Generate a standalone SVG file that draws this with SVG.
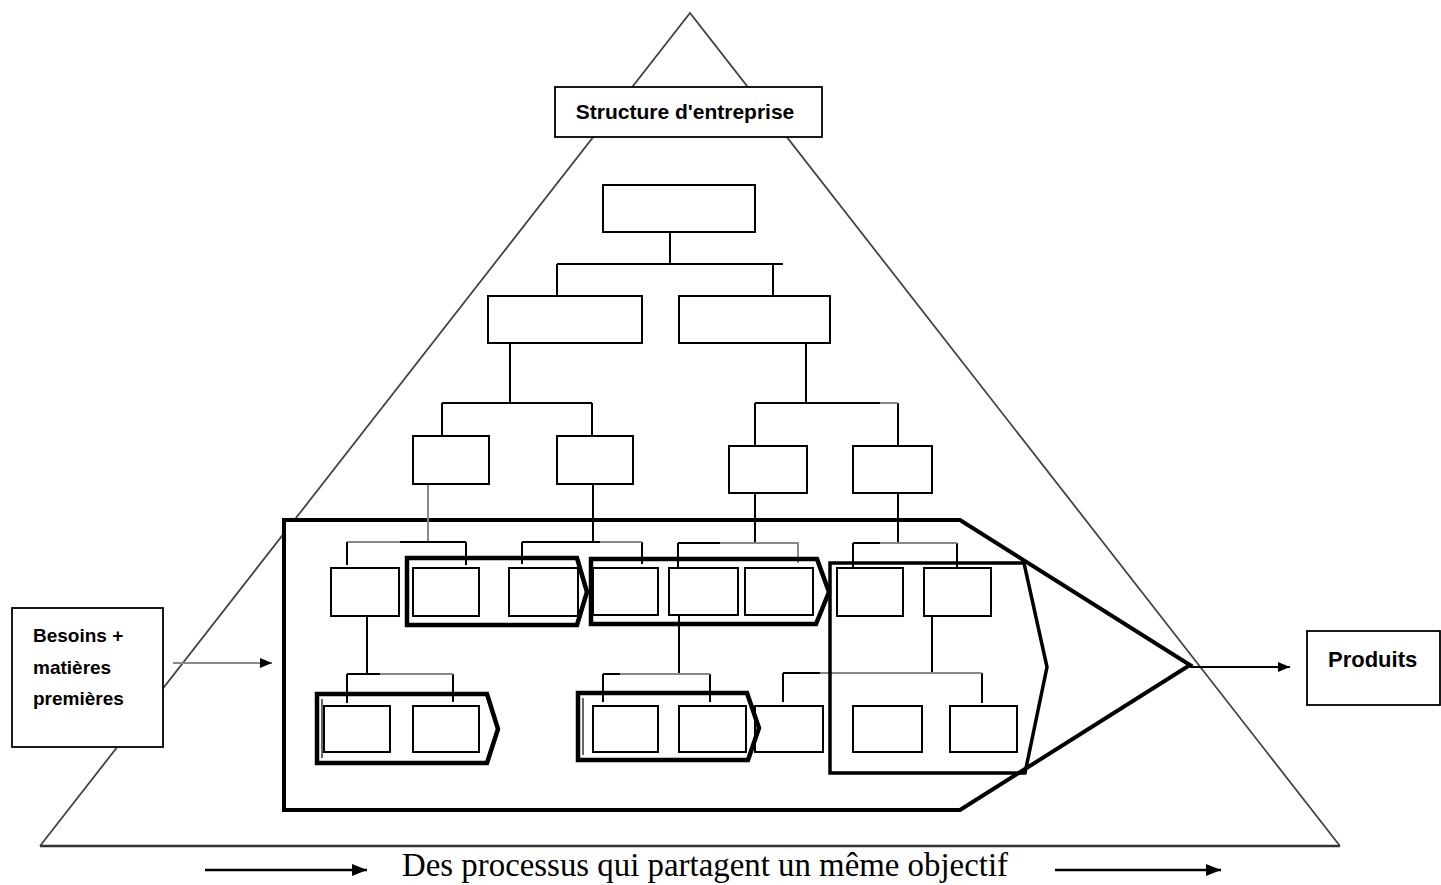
<svg xmlns="http://www.w3.org/2000/svg" width="1441" height="885" viewBox="0 0 1441 885">
  <defs>
    <style>
      .tri { fill: none; stroke: #444; stroke-width: 1.8; }
      .base { stroke: #333; stroke-width: 2.4; }
      .big { fill: #fff; stroke: #000; stroke-width: 4; stroke-linejoin: miter; }
      .proc { fill: none; stroke: #000; stroke-width: 4.5; stroke-linejoin: miter; }
      .proc-in { fill: none; stroke: #000; stroke-width: 1.2; }
      .unit { fill: #fff; stroke: #000; stroke-width: 2; }
      .link { fill: none; stroke: #000; stroke-width: 2; }
      .link-g { fill: none; stroke: #888; stroke-width: 2; }
      .label { fill: #fff; stroke: #000; stroke-width: 1.8; }
      .lbl { font-family: "Liberation Sans", Arial, sans-serif; font-weight: bold; fill: #000; }
      .cap { font-family: "Liberation Serif", "Times New Roman", serif; fill: #000; }
      .flow { fill: none; stroke: #000; stroke-width: 2.6; }
    </style>
    <marker id="head" viewBox="0 0 10 10" refX="10" refY="5" markerWidth="12" markerHeight="10" markerUnits="userSpaceOnUse" orient="auto" preserveAspectRatio="none">
      <path d="M0 0 L10 5 L0 10 Z" fill="#000"/>
    </marker>
    <marker id="headL" viewBox="0 0 10 10" refX="10" refY="5" markerWidth="15" markerHeight="12" markerUnits="userSpaceOnUse" orient="auto" preserveAspectRatio="none">
      <path d="M0 0 L10 5 L0 10 Z" fill="#000"/>
    </marker>
  </defs>

  <!-- enterprise pyramid -->
  <g id="pyramid">
    <path class="tri" d="M40 846 L690 13 L1340 846"/>
    <line class="base" x1="40" y1="846" x2="1340" y2="846"/>
  </g>

  <!-- overall process envelope -->
  <g id="process-envelope">
    <path class="big" d="M284 520 H960 L1190 665 L960 810 H284 Z"/>
  </g>

  <!-- hierarchy links -->
  <g id="connectors">
    <path class="link" d="M670 232 V264 M557 264 H783 M557 264 V296 M773 264 V296"/>
    <path class="link" d="M510 343 V403 M442 403 H592 M442 403 V436 M592 403 V436"/>
    <path class="link" d="M806 343 V403 M755 403 H880 M755 403 V446 M898 403 V446"/>
    <path class="link-g" d="M880 403 H898"/>
    <path class="link-g" d="M428 484 V542 M347 542 H400"/>
    <path class="link" d="M400 542 H466 M347 542 V565 M466 542 V565"/>
    <path class="link" d="M593 484 V542 M522 542 H600 M522 542 V564 M642 542 V564"/>
    <path class="link-g" d="M600 542 H642"/>
    <path class="link" d="M755 493 V543 M678 543 H720 M678 543 V567"/>
    <path class="link-g" d="M720 543 H798 V563"/>
    <path class="link" d="M898 493 V543 M853 543 H880 M853 543 V567 M957 543 V567"/>
    <path class="link-g" d="M880 543 H957"/>
    <path class="link" d="M367 616 V674 M347 674 H380 M347 674 V703 M453 674 V702"/>
    <path class="link-g" d="M380 674 H453"/>
    <path class="link" d="M679 615 V674 M603 674 H620 M603 674 V702 M710 674 V702"/>
    <path class="link-g" d="M620 674 H710"/>
    <path class="link" d="M932 616 V673 M783 673 H820 M783 673 V702 M982 673 V703"/>
    <path class="link-g" d="M820 673 H982"/>
  </g>

  <!-- organisation chart units -->
  <g id="units">
    <rect id="u-top" class="unit" x="603" y="185" width="152" height="47"/>
    <rect id="u-l1a" class="unit" x="488" y="296" width="154" height="47"/>
    <rect id="u-l1b" class="unit" x="679" y="296" width="151" height="47"/>
    <rect id="u-l2a" class="unit" x="413" y="436" width="76" height="48"/>
    <rect id="u-l2b" class="unit" x="557" y="436" width="76" height="48"/>
    <rect id="u-l2c" class="unit" x="729" y="446" width="78" height="47"/>
    <rect id="u-l2d" class="unit" x="853" y="446" width="79" height="47"/>
    <rect id="u-a1" class="unit" x="331" y="568" width="68" height="48"/>
    <rect id="u-a2" class="unit" x="413" y="568" width="66" height="48"/>
    <rect id="u-a3" class="unit" x="509" y="568" width="69" height="48"/>
    <rect id="u-c1" class="unit" x="593" y="568" width="65" height="47"/>
    <rect id="u-c2" class="unit" x="669" y="568" width="69" height="47"/>
    <rect id="u-c3" class="unit" x="745" y="568" width="68" height="47"/>
    <rect id="u-f1" class="unit" x="837" y="568" width="66" height="48"/>
    <rect id="u-f2" class="unit" x="924" y="568" width="67" height="48"/>
    <rect id="u-b1" class="unit" x="324" y="706" width="66" height="46"/>
    <rect id="u-b2" class="unit" x="413" y="706" width="66" height="46"/>
    <rect id="u-d1" class="unit" x="593" y="706" width="65" height="46"/>
    <rect id="u-d2" class="unit" x="679" y="706" width="67" height="46"/>
    <rect id="u-e" class="unit" x="755" y="706" width="68" height="46"/>
    <rect id="u-g1" class="unit" x="853" y="706" width="69" height="46"/>
    <rect id="u-g2" class="unit" x="950" y="706" width="67" height="46"/>
  </g>

  <!-- individual processes -->
  <g id="processes">
    <g id="proc-1">
      <path class="proc" d="M407 558 H577 L587 592 L577 625 H407 Z"/>
    </g>
    <g id="proc-2">
      <path class="proc" d="M317 694 H487 L498 729 L487 763 H317 Z"/>
      <path class="proc-in" d="M322 699 V758"/>
    </g>
    <g id="proc-3">
      <path class="proc" d="M591 559 H817 L829 592 L816 624 H591 Z"/>
    </g>
    <g id="proc-4">
      <path class="proc" d="M578 693 H747 L759 728 L748 760 H578 Z"/>
      <path class="proc-in" d="M583 698 V755"/>
    </g>
    <g id="proc-5">
      <path class="proc" style="stroke-width:3.5" d="M830 563 H1024 L1047 667 L1025 773 H830 Z"/>
    </g>
  </g>

  <!-- inputs and outputs -->
  <g id="flows">
    <line x1="173" y1="663" x2="272" y2="663" stroke="#8a8a8a" stroke-width="2.2" marker-end="url(#head)"/>
    <line x1="1190" y1="667" x2="1290" y2="667" stroke="#000" stroke-width="2" marker-end="url(#head)"/>
    <line class="flow" x1="205" y1="870" x2="367" y2="870" marker-end="url(#headL)"/>
    <line class="flow" x1="1055" y1="870" x2="1221" y2="870" marker-end="url(#headL)"/>
  </g>

  <g id="structure">
    <rect class="label" x="555" y="87" width="267" height="50"/>
    <text class="lbl" x="685" y="119" font-size="21" text-anchor="middle">Structure d'entreprise</text>
  </g>

  <g id="inputs">
    <rect class="label" x="12" y="608" width="151" height="139"/>
    <text class="lbl" x="33" y="642" font-size="19">Besoins +</text>
    <text class="lbl" x="33" y="674" font-size="19">matières</text>
    <text class="lbl" x="33" y="705" font-size="19">premières</text>
  </g>

  <g id="outputs">
    <rect class="label" x="1307" y="631" width="133" height="74"/>
    <text class="lbl" x="1328" y="667" font-size="22">Produits</text>
  </g>

  <text class="cap" x="402" y="876" font-size="34" textLength="606" lengthAdjust="spacingAndGlyphs">Des processus qui partagent un même objectif</text>
</svg>
